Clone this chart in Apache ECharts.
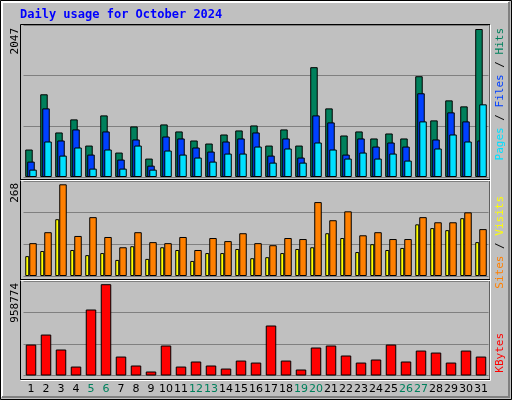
<!DOCTYPE html>
<html><head><meta charset="utf-8">
<script src="https://cdn.jsdelivr.net/npm/echarts@6/dist/echarts.min.js"></script>
<style>html,body{margin:0;padding:0;background:#c0c0c0}#c{width:512px;height:400px}</style>
</head><body><div id="c"></div>
<script>
const days = ['1','2','3','4','5','6','7','8','9','10','11','12','13','14','15','16','17','18','19','20','21','22','23','24','25','26','27','28','29','30','31'];
const weekendDays = ['5','6','12','13','19','20','26','27'];
const hits = [380,1144,616,797,435,852,338,699,255,727,630,505,463,588,644,713,435,658,435,1519,949,574,630,533,602,533,1394,783,1060,977,2047];
const files = [213,949,505,658,310,630,241,519,157,560,533,408,352,491,533,616,296,533,269,852,755,310,533,421,477,421,1158,519,894,769,505];
const pages = [102,491,296,408,116,380,116,435,102,366,310,269,213,324,324,421,199,394,199,477,380,255,338,255,324,227,769,394,588,491,1005];
const sites = [58,73,166,76,61,67,47,87,50,84,76,44,67,67,79,52,55,67,79,84,125,111,70,93,76,82,151,140,134,169,99];
const visits = [96,128,268,117,172,114,84,128,99,96,114,76,111,102,125,96,90,111,108,216,163,189,119,128,108,108,172,157,157,186,137];
const kbytes = [325000,430000,273000,94000,693000,958774,199000,105000,42000,315000,94000,147000,105000,73000,157000,136000,525000,157000,63000,294000,315000,210000,136000,168000,325000,147000,262000,241000,136000,262000,199000];
const maxLabels = ['2047','268','958774'];

const chart = echarts.init(document.getElementById('c'), null, {renderer:'canvas'});
const L = 23.5, W = 465;
const grids = [
  {left:L, width:W, top:25, height:152},
  {left:L, width:W, top:181, height:95},
  {left:L, width:W, top:281, height:94.5}
];
const ymax = [2047*152/148, 268*95/91.7, 958774*94.5/91.3];
const xAxes = grids.map((g,i)=>({gridIndex:i, type:'category', data:days, axisLine:{show:false}, axisTick:{show:false},
  axisLabel: i<2 ? {show:false} : {show:true, interval:0, margin:8, fontFamily:'DejaVu Sans', fontSize:11,
    formatter:v=> weekendDays.includes(v) ? '{g|'+v+'}' : '{b|'+v+'}',
    rich:{g:{color:'#00805c', fontFamily:'DejaVu Sans', fontSize:11}, b:{color:'#000', fontFamily:'DejaVu Sans', fontSize:11}}}}));
const yAxes = grids.map((g,i)=>({gridIndex:i, type:'value', min:0, max:ymax[i], interval:ymax[i]/3,
  axisLabel:{show:false}, axisLine:{show:false}, axisTick:{show:false},
  splitLine:{show:true, lineStyle:{color:'#808080', width:1}}}));
const bs = c => ({color:c, borderColor:'#000', borderWidth:1});
const series = [
  {type:'bar', xAxisIndex:0, yAxisIndex:0, data:hits, barWidth:7.5, barGap:'-73%', itemStyle:bs('#00805c'), z:2},
  {type:'bar', xAxisIndex:0, yAxisIndex:0, data:files, barWidth:7.5, barGap:'-73%', itemStyle:bs('#0040ff'), z:3},
  {type:'bar', xAxisIndex:0, yAxisIndex:0, data:pages, barWidth:7.5, barGap:'-73%', itemStyle:bs('#00e0ff'), z:4},
  {type:'bar', xAxisIndex:1, yAxisIndex:1, data:sites, barWidth:4, barGap:'0%', itemStyle:bs('#ffff00')},
  {type:'bar', xAxisIndex:1, yAxisIndex:1, data:visits, barWidth:7.5, barGap:'0%', itemStyle:bs('#ff8000')},
  {type:'bar', xAxisIndex:2, yAxisIndex:2, data:kbytes, barWidth:10.5, itemStyle:bs('#ff0000')}
];
const mono = 'DejaVu Sans Mono';
function vtext(x,y,rich,str,align){
  return {type:'text', x:x, y:y, rotation:Math.PI/2, z:10,
    style:{text:str, rich:rich, align:align||'right', verticalAlign:'middle', font:'11px '+mono}};
}
const graphic = [
  {type:'rect', shape:{x:0.5,y:0.5,width:511,height:399}, style:{fill:'none', stroke:'#000', lineWidth:1}, z:-1},
  {type:'polyline', shape:{points:[[2,397],[2,2],[509,2]]}, style:{stroke:'#fff', fill:'none', lineWidth:2}},
  {type:'polyline', shape:{points:[[509,2],[509,397],[2,397]]}, style:{stroke:'#808080', fill:'none', lineWidth:2}},
  {type:'rect', shape:{x:20.5,y:24.5,width:469.5,height:355}, style:{fill:'none', stroke:'#000', lineWidth:1}},
  {type:'polyline', shape:{points:[[490.5,24.5],[490.5,380.5],[20.5,380.5]]}, style:{stroke:'#fff', fill:'none', lineWidth:1}},
  {type:'line', shape:{x1:20.5,y1:179.5,x2:490,y2:179.5}, style:{stroke:'#000', lineWidth:1}},
  {type:'line', shape:{x1:20.5,y1:180.5,x2:490,y2:180.5}, style:{stroke:'#fff', lineWidth:1}},
  {type:'line', shape:{x1:20.5,y1:279.5,x2:490,y2:279.5}, style:{stroke:'#000', lineWidth:1}},
  {type:'line', shape:{x1:20.5,y1:280.5,x2:490,y2:280.5}, style:{stroke:'#fff', lineWidth:1}},
  {type:'text', x:20, y:15, style:{text:'Daily usage for October 2024', font:'bold 12px '+mono, fill:'#0000ff', verticalAlign:'middle'}},
  {type:'text', x:15, y:28, rotation:Math.PI/2, style:{text:maxLabels[0], font:'11px '+mono, fill:'#000', align:'right', verticalAlign:'middle'}},
  {type:'text', x:15, y:183, rotation:Math.PI/2, style:{text:maxLabels[1], font:'11px '+mono, fill:'#000', align:'right', verticalAlign:'middle'}},
  {type:'text', x:15, y:283, rotation:Math.PI/2, style:{text:maxLabels[2], font:'11px '+mono, fill:'#000', align:'right', verticalAlign:'middle'}},
  vtext(500, 28, {p:{fill:'#00e0ff',font:'11px '+mono}, s:{fill:'#000',font:'11px '+mono}, f:{fill:'#0040ff',font:'11px '+mono}, h:{fill:'#00805c',font:'11px '+mono}}, '{p|Pages}{s| / }{f|Files}{s| / }{h|Hits}'),
  vtext(500, 196, {a:{fill:'#ff8000',font:'11px '+mono}, s:{fill:'#000',font:'11px '+mono}, b:{fill:'#ffff00',font:'11px '+mono}}, '{a|Sites}{s| / }{b|Visits}'),
  vtext(500, 333, {k:{fill:'#ff0000',font:'11px '+mono}}, '{k|KBytes}')
];
chart.setOption({
  backgroundColor:'#c0c0c0', animation:false,
  grid:grids, xAxis:xAxes, yAxis:yAxes, series:series, graphic:graphic
});
</script></body></html>
